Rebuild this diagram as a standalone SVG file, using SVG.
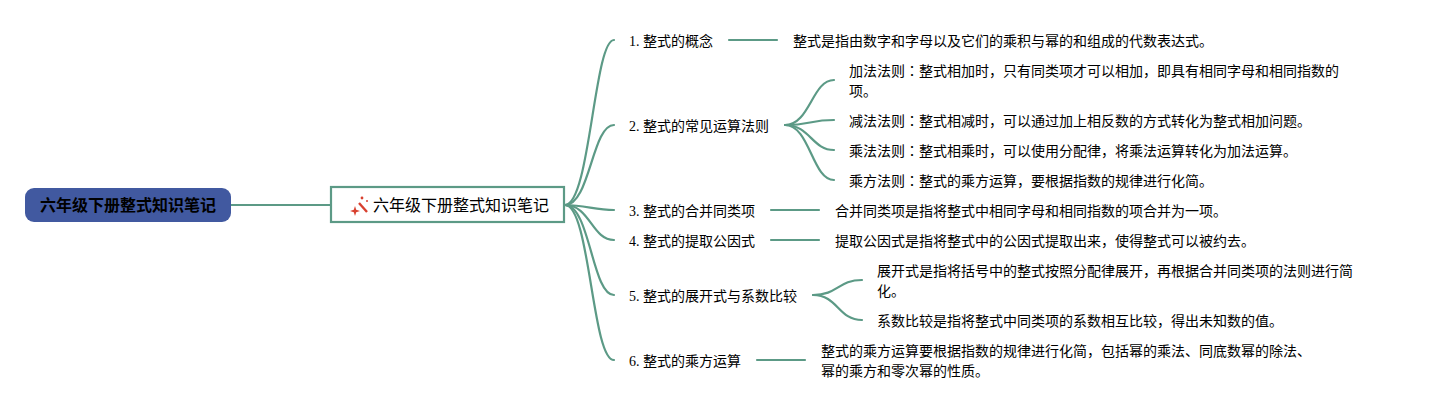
<svg xmlns="http://www.w3.org/2000/svg" width="1437" height="410" viewBox="0 0 1437 410">
<style>
text{font-family:"Liberation Serif","Noto Sans CJK SC",serif;font-size:14px;fill:#000}
.k{font-family:"Noto Sans CJK TC",sans-serif}
.c{fill:none;stroke:#5c9a86;stroke-width:2.2;stroke-linecap:round}
.t{font-size:16px}
</style>
<rect width="1437" height="410" fill="#fff"/>
<g id="connectors">
<path class="c" d="M231 205H331"/>
<path class="c" d="M565 205C590 205 594 40 614 40"/>
<path class="c" d="M565 205C590 205 592 125 614 125"/>
<path class="c" d="M565 205C585 205 595 210 614 210"/>
<path class="c" d="M565 205C590 205 592 240 614 240"/>
<path class="c" d="M565 205C590 205 592 295 614 295"/>
<path class="c" d="M565 205C590 205 592 360 614 360"/>
<path class="c" d="M729 40H777"/>
<path class="c" d="M785 125C810 125 812 80 834 80"/>
<path class="c" d="M785 125C810 125 810 120 834 120"/>
<path class="c" d="M785 125C810 125 812 150 834 150"/>
<path class="c" d="M785 125C810 125 812 180 834 180"/>
<path class="c" d="M771 210H819"/>
<path class="c" d="M771 240H819"/>
<path class="c" d="M813 295C838 295 838 280 862 280"/>
<path class="c" d="M813 295C838 295 838 320 862 320"/>
<path class="c" d="M757 360H805"/>
</g>
<g id="root"><rect x="25" y="188" width="206" height="34" rx="9" fill="#4159a0"/><text x="128" y="211" text-anchor="middle" style="font-size:16px;font-weight:700">六年级下册整式知识笔记</text></g>
<g id="main"><rect x="331" y="187" width="233" height="35" fill="#fff" stroke="#5c9a86" stroke-width="2.2"/>
<path d="M359 203L367 212" stroke="#d8402f" stroke-width="2.4" fill="none"/><path d="M355 206L356.2 209.8L360 211L356.2 212.2L355 216L353.8 212.2L350 211L353.8 209.8Z" fill="#d8402f"/><circle cx="362" cy="198" r="1.4" fill="#d8402f"/><circle cx="367" cy="201" r="1" fill="#d8402f"/>
<text class="t" x="373" y="211">六年级下册整式知识笔记</text></g>
<g id="n1"><text x="629" y="46">1. 整式的概念</text></g>
<g id="n1a"><text x="793" y="46">整式是指由数字和字母以及它们的乘积与幂的和组成的代数表达式。</text></g>
<g id="n2"><text x="629" y="131">2. 整式的常见运算法则</text></g>
<g id="n2a"><text x="849" y="76">加法法则<tspan class="k">：</tspan>整式相加时，只有同类项才可以相加，即具有相同字母和相同指数的</text><text x="849" y="96">项。</text></g>
<g id="n2b"><text x="849" y="126">减法法则<tspan class="k">：</tspan>整式相减时，可以通过加上相反数的方式转化为整式相加问题。</text></g>
<g id="n2c"><text x="849" y="156">乘法法则<tspan class="k">：</tspan>整式相乘时，可以使用分配律，将乘法运算转化为加法运算。</text></g>
<g id="n2d"><text x="849" y="186">乘方法则<tspan class="k">：</tspan>整式的乘方运算，要根据指数的规律进行化简。</text></g>
<g id="n3"><text x="629" y="216">3. 整式的合并同类项</text></g>
<g id="n3a"><text x="835" y="216">合并同类项是指将整式中相同字母和相同指数的项合并为一项。</text></g>
<g id="n4"><text x="629" y="246">4. 整式的提取公因式</text></g>
<g id="n4a"><text x="835" y="246">提取公因式是指将整式中的公因式提取出来，使得整式可以被约去。</text></g>
<g id="n5"><text x="629" y="301">5. 整式的展开式与系数比较</text></g>
<g id="n5a"><text x="877" y="276">展开式是指将括号中的整式按照分配律展开，再根据合并同类项的法则进行简</text><text x="877" y="296">化。</text></g>
<g id="n5b"><text x="877" y="326">系数比较是指将整式中同类项的系数相互比较，得出未知数的值。</text></g>
<g id="n6"><text x="629" y="366">6. 整式的乘方运算</text></g>
<g id="n6a"><text x="821" y="356">整式的乘方运算要根据指数的规律进行化简，包括幂的乘法、同底数幂的除法、</text><text x="821" y="376">幂的乘方和零次幂的性质。</text></g>
</svg>
